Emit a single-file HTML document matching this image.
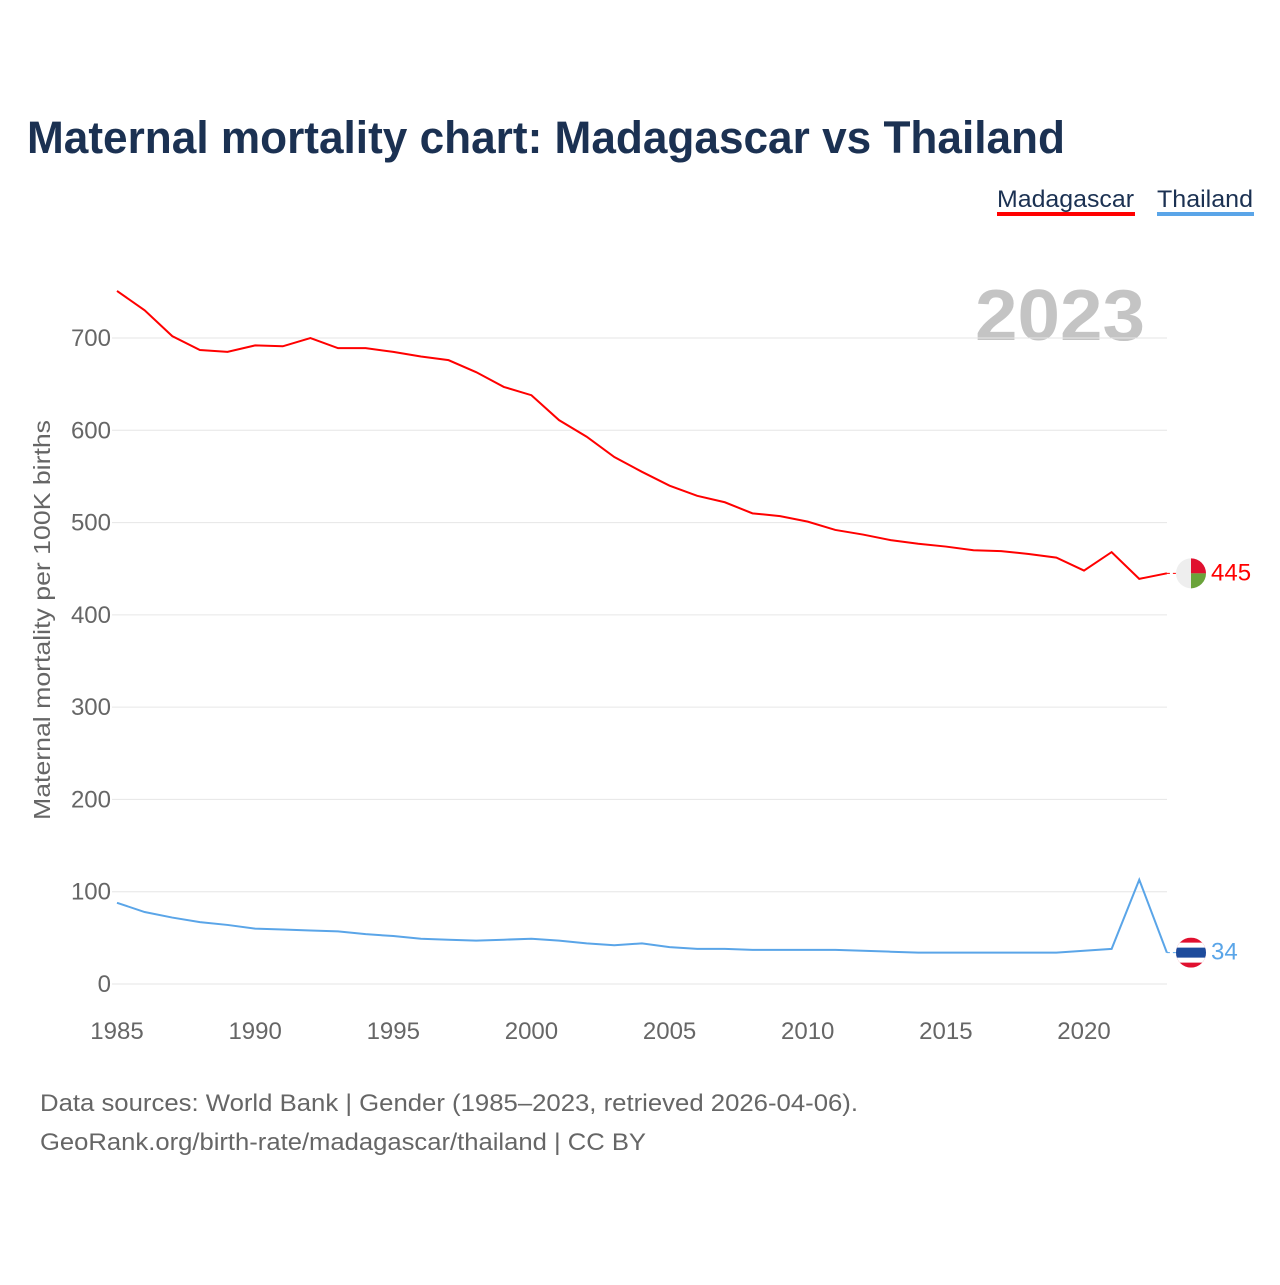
<!DOCTYPE html>
<html><head><meta charset="utf-8"><style>
body{margin:0;background:#fff;font-family:"Liberation Sans",sans-serif;}
</style></head><body>
<svg id="chart" width="1280" height="1280" viewBox="0 0 1280 1280" xmlns="http://www.w3.org/2000/svg">
<rect width="1280" height="1280" fill="#fff"/>
<text x="27" y="153" font-size="45" font-weight="bold" fill="#1b3152" textLength="1038" lengthAdjust="spacingAndGlyphs">Maternal mortality chart: Madagascar vs Thailand</text>
<g>
<text x="997" y="207" font-size="24" fill="#1b3152" textLength="137" lengthAdjust="spacingAndGlyphs">Madagascar</text>
<rect x="997" y="212" width="138" height="4" fill="#ff0000"/></g>
<g>
<text x="1157" y="207" font-size="24" fill="#1b3152" textLength="96" lengthAdjust="spacingAndGlyphs">Thailand</text>
<rect x="1157" y="212" width="97" height="4" fill="#5aa5e8"/></g>
<text x="975" y="340" font-size="72" font-weight="bold" fill="#c4c4c4" textLength="170" lengthAdjust="spacingAndGlyphs">2023</text>
<g id="grid"></g>
<g id="series"></g>
<text transform="translate(50,620) rotate(-90)" font-size="23" fill="#666" text-anchor="middle" textLength="400" lengthAdjust="spacingAndGlyphs">Maternal mortality per 100K births</text>
<text x="40" y="1111" font-size="24" fill="#666" textLength="818" lengthAdjust="spacingAndGlyphs">Data sources: World Bank | Gender (1985–2023, retrieved 2026-04-06).</text>
<text x="40" y="1150" font-size="24" fill="#666" textLength="606" lengthAdjust="spacingAndGlyphs">GeoRank.org/birth-rate/madagascar/thailand | CC BY</text>
</svg>
<script>
const years=[];for(let y=1985;y<=2023;y++)years.push(y);
const madagascar=[751,730,702,687,685,692,691,700,689,689,685,680,676,663,647,638,611,593,571,555,540,529,522,510,507,501,492,487,481,477,474,470,469,466,462,448,468,439,445];
const thailand=[88,78,72,67,64,60,59,58,57,54,52,49,48,47,48,49,47,44,42,44,40,38,38,37,37,37,37,36,35,34,34,34,34,34,34,36,38,113,34];
const yTicks=[0,100,200,300,400,500,600,700];
const xTicks=[1985,1990,1995,2000,2005,2010,2015,2020];
const NS="http://www.w3.org/2000/svg";
const X=y=>117+(y-1985)*(1084-117)/35;
const Y=v=>984-v*(984-338)/700;
const grid=document.getElementById('grid'),ser=document.getElementById('series');
function mk(tag,attrs,parent){const e=document.createElementNS(NS,tag);for(const k in attrs)e.setAttribute(k,attrs[k]);parent.appendChild(e);return e;}
yTicks.forEach(t=>{
 const l=mk('line',{x1:112,x2:1167,y1:Y(t),y2:Y(t),stroke:'#e6e6e6','stroke-width':1},grid);
 
 
 const tx=mk('text',{x:111,y:Y(t)+8,'font-size':24,fill:'#666','text-anchor':'end'},grid);tx.textContent=t;
 
 
});
xTicks.forEach(t=>{
 const tx=mk('text',{x:X(t),y:1039,'font-size':24,fill:'#666','text-anchor':'middle'},grid);tx.textContent=t;
 
 
});
function line(vals,color,name){
 const p=mk('polyline',{points:vals.map((v,i)=>X(years[i])+','+Y(v)).join(' '),fill:'none',stroke:color,'stroke-width':2},ser);
 
 
 const last=vals[vals.length-1],lx=X(years[years.length-1]),ly=Y(last);
 const d=mk('line',{x1:lx,y1:ly,x2:1180,y2:ly,stroke:color,'stroke-width':1,'stroke-dasharray':'3,3'},ser);
 
 
 const tx=mk('text',{x:1211,y:ly+7,'font-size':24,fill:color},ser);tx.textContent=last;
 
 
 return ly;
}
const ym=line(madagascar,'#ff0000','madagascar-line');
const yt=line(thailand,'#5aa5e8','thailand-line');
const fm=mk('g',{},ser);


mk('circle',{cx:1191,cy:ym,r:15,fill:'#eee'},fm);
mk('path',{d:`M1191 ${ym-15} A15 15 0 0 1 1206 ${ym} L1191 ${ym} Z`,fill:'#e0102f'},fm);
mk('path',{d:`M1206 ${ym} A15 15 0 0 1 1191 ${ym+15} L1191 ${ym} Z`,fill:'#6aa33a'},fm);
const ft=mk('g',{},ser);


const cp=mk('clipPath',{id:'thc'},ft);mk('circle',{cx:1191,cy:yt,r:15},cp);
const g=mk('g',{'clip-path':'url(#thc)'},ft);
mk('rect',{x:1176,y:yt-15,width:30,height:30,fill:'#e0102f'},g);
mk('rect',{x:1176,y:yt-10,width:30,height:20,fill:'#fff'},g);
mk('rect',{x:1176,y:yt-5,width:30,height:10,fill:'#1d4b9c'},g);
</script>
</body></html>
